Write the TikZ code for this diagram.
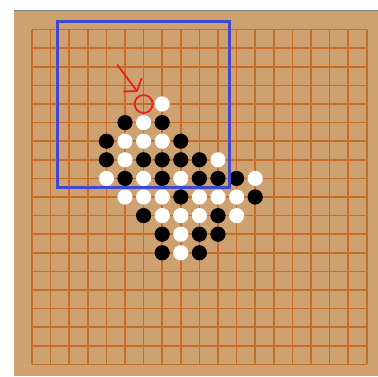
\documentclass[tikz,border=0pt]{standalone}
\begin{document}
\begin{tikzpicture}[x=1pt,y=-1pt,
  gridline/.style={draw=gridc,line width=1.5pt},
  bstone/.style={fill=black},
  wstone/.style={fill=white}]
\definecolor{boardc}{RGB}{206,161,112}
\definecolor{gridc}{RGB}{200,108,42}
\definecolor{bluec}{RGB}{68,72,204}
\definecolor{redc}{RGB}{232,32,36}
\useasboundingbox (0,0) rectangle (378,376);
\fill[white] (0,0) rectangle (378,376);
\fill[boardc] (14,10) rectangle (378,376);
\draw[gray,line width=1pt] (14,10.5) -- (378,10.5);
% grid
\foreach \i in {0,...,18} {
  \draw[gridline] ({32+18.6*\i},29.6) -- ({32+18.6*\i},364.4);
  \draw[gridline] (32,{29.6+18.6*\i}) -- (366.8,{29.6+18.6*\i});
}
% stones: column/row
\foreach \c/\r in {5/5,7/5,4/6,8/6,4/7,6/7,7/7,8/7,9/7,5/8,7/8,9/8,10/8,11/8,8/9,12/9,6/10,10/10,7/11,9/11,10/11,7/12,9/12}
  \fill[bstone] ({32+18.6*\c},{29.6+18.6*\r}) circle (7.6);
\foreach \c/\r in {7/4,6/5,5/6,6/6,7/6,5/7,10/7,4/8,6/8,8/8,12/8,5/9,6/9,7/9,9/9,10/9,11/9,7/10,8/10,9/10,11/10,8/11,8/12}
  \fill[wstone] ({32+18.6*\c},{29.6+18.6*\r}) circle (7.6);
% blue frame
\draw[bluec,line width=3.5pt] (57.5,21.5) rectangle (229.5,187.5);
% red mark
\draw[redc,line width=1.8pt] ({32+18.6*6},{29.6+18.6*4}) circle (9);
\coordinate (tip) at (137,91);
\draw[redc,line width=1.8pt,line cap=round] (117.5,65) -- (tip);
\draw[redc,line width=1.8pt,line cap=round,line join=round] (124,91.5) -- (tip) -- (141.5,78.5);
\end{tikzpicture}
\end{document}
